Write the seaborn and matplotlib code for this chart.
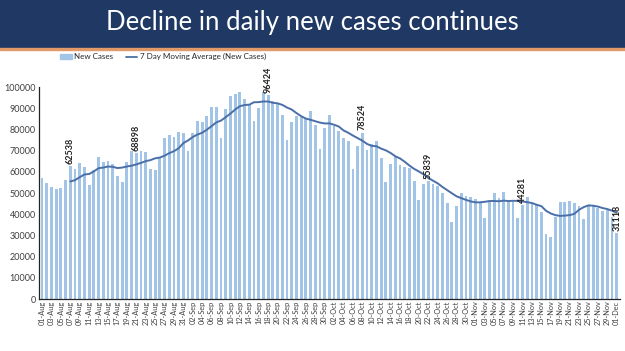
import numpy as np
import pandas as pd
import matplotlib
matplotlib.use("Agg")
import matplotlib.pyplot as plt
import seaborn as sns
from matplotlib.patches import Rectangle, Patch
from matplotlib.lines import Line2D

# daily new cases, 01-Aug .. 01-Dec
aug = [57118, 54735, 52972, 52050, 52509, 56282, 62538, 61537, 64399, 62064,
       53601, 60963, 66999, 64553, 65002, 63490, 57981, 55079, 64531, 69652,
       68898, 69878, 69239, 61408, 60975, 67151, 75760, 77266, 76472, 78761,
       78512]
sep = [69921, 78357, 83883, 83341, 86432, 90632, 90802, 75809, 89706, 95735,
       96551, 97570, 94372, 92071, 83809, 90123, 97894, 96424, 93337, 92605,
       86961, 75083, 83347, 86508, 86052, 85362, 88600, 82170, 70589, 80472]
oct_ = [86821, 81484, 79476, 75829, 74442, 61267, 72049, 78524, 70496, 73272,
        74383, 66732, 55342, 63509, 67708, 63371, 62212, 61871, 55722, 46790,
        54044, 55839, 54366, 53370, 50129, 45148, 36470, 43893, 49881, 48648,
        48268]
nov = [46963, 45231, 38310, 46253, 50210, 47638, 50357, 45674, 45903, 38073,
       44281, 47905, 44878, 44684, 41100, 30548, 29163, 38617, 45576, 45882,
       46232, 45209, 44059, 37975, 44376, 44489, 43082, 41322, 41810, 38772]
dec = [31118]

new_cases = aug + sep + oct_ + nov + dec
labelled_dates = ["07-Aug", "21-Aug", "18-Sep", "08-Oct", "22-Oct", "11-Nov", "01-Dec"]

dates = pd.date_range("2020-08-01", "2020-12-01", freq="D")
df = pd.DataFrame({"date": dates.strftime("%d-%b"), "cases": new_cases})
df["pos"] = np.arange(len(df))
df["ma7"] = df["cases"].rolling(7).mean()

BAR = "#a2c4e6"
LINE = "#4a6fa8"
NAVY = "#1f3864"

sns.set_style("white")
plt.rcParams["font.family"] = ["Lato", "DejaVu Sans"]

fig = plt.figure(figsize=(6.25, 3.51), dpi=100)
ax = fig.add_axes([0.062, 0.148, 0.93, 0.604])

# title banner
fig.patches.append(Rectangle((0, 0.862), 1, 0.138, transform=fig.transFigure,
                             color=NAVY, zorder=0))
fig.patches.append(Rectangle((0, 0.857), 1, 0.006, transform=fig.transFigure,
                             color="#e39a6a", zorder=0))
fig.text(0.5, 0.935, "Decline in daily new cases continues", color="white",
         fontsize=18.5, ha="center", va="center")

sns.barplot(data=df, x="date", y="cases", color=BAR, width=0.6,
            saturation=1, linewidth=0, ax=ax)
for p in ax.patches:
    p.set_antialiased(False)
sns.lineplot(x=df["pos"], y=df["ma7"], color=LINE, linewidth=1.4, ax=ax)

for d in labelled_dates:
    row = df[df["date"] == d].iloc[0]
    ax.text(row["pos"], row["cases"] + 1000, f"{row['cases']}", rotation=90,
            ha="center", va="bottom", fontsize=6.5, fontweight="bold",
            color="#222222", clip_on=False)

ax.set_xlim(-0.7, len(df) - 0.3)
ax.set_ylim(0, 100000)
ax.set_yticks(np.arange(0, 100001, 10000))
ax.tick_params(axis="y", labelsize=6.5, colors="#404040", pad=2, length=0)
ax.set_xticks(df["pos"][::2])
ax.set_xticklabels(df["date"][::2], rotation=90, fontsize=5.3, color="#404040")
ax.tick_params(axis="x", pad=1, length=0)
ax.set_xlabel("")
ax.set_ylabel("")
sns.despine(ax=ax, top=True, right=True)
ax.spines["left"].set_color("#222222")
ax.spines["bottom"].set_color("#222222")
ax.spines["left"].set_linewidth(0.9)
ax.spines["bottom"].set_linewidth(0.9)

handles = [Patch(color=BAR), Line2D([0], [0], color=LINE, linewidth=1.3)]
fig.legend(handles, ["New Cases", "7 Day Moving Average (New Cases)"],
           loc="center left", bbox_to_anchor=(0.085, 0.838), ncol=2,
           frameon=False, fontsize=5.8, handlelength=1.4, handleheight=0.5,
           columnspacing=1.6, handletextpad=0.3)

fig.savefig("out.png", dpi=100)
